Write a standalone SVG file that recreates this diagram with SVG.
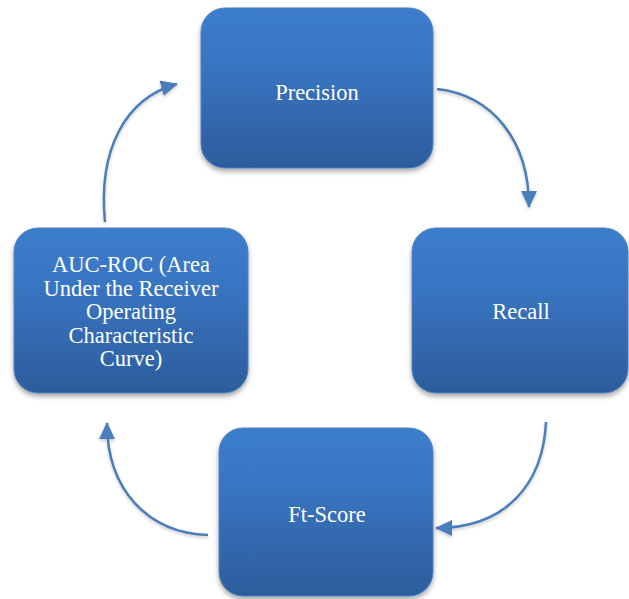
<svg xmlns="http://www.w3.org/2000/svg" width="629" height="599" viewBox="0 0 629 599">
<style>
.box{fill:url(#g);stroke:#4f81bd;stroke-width:1;filter:url(#sh)}
.lbl{font-family:"Liberation Serif","Times New Roman",serif;font-size:22.5px;fill:#ffffff;text-anchor:middle}
.conn{fill:none;stroke:#4a7ebb;stroke-width:2.5;marker-end:url(#ah);filter:url(#sh2)}
</style>
<defs>
<linearGradient id="g" x1="0" y1="0" x2="0" y2="1">
<stop offset="0" stop-color="#3b7dcd"/>
<stop offset="0.35" stop-color="#3975c2"/>
<stop offset="1" stop-color="#2c5c9c"/>
</linearGradient>
<filter id="sh" x="-10%" y="-10%" width="120%" height="125%">
<feDropShadow dx="0" dy="3" stdDeviation="2.5" flood-color="#000" flood-opacity="0.35"/>
</filter>
<filter id="sh2" x="-20%" y="-20%" width="140%" height="140%">
<feDropShadow dx="0" dy="2" stdDeviation="1.5" flood-color="#000" flood-opacity="0.2"/>
</filter>
<marker id="ah" markerUnits="userSpaceOnUse" markerWidth="18" markerHeight="16" refX="16" refY="8" orient="auto">
<path d="M0,0 L17,8 L0,16 Z" fill="#4a7ebb"/>
</marker>
</defs>
<g id="connectors">
<path class="conn" d="M437,89 C492,95 529,140 529,207"/>
<path class="conn" d="M546,422 C543,485 505,528 436,528"/>
<path class="conn" d="M208,535 C148,533 107,490 107,423"/>
<path class="conn" d="M105,222 C98,150 125,98 177,84"/>
</g>
<g id="precision">
<rect class="box" x="201" y="8" width="232" height="160" rx="24"/>
<text class="lbl" x="317" y="100">Precision</text>
</g>
<g id="recall">
<rect class="box" x="412" y="228" width="216" height="165" rx="24"/>
<text class="lbl" x="521" y="319">Recall</text>
</g>
<g id="ftscore">
<rect class="box" x="219" y="428" width="214" height="168" rx="24"/>
<text class="lbl" x="327" y="522">Ft-Score</text>
</g>
<g id="aucroc">
<rect class="box" x="14" y="228" width="234" height="165" rx="24"/>
<text class="lbl" x="131" y="272">AUC-ROC (Area</text>
<text class="lbl" x="131" y="295.5">Under the Receiver</text>
<text class="lbl" x="131" y="319">Operating</text>
<text class="lbl" x="131" y="342.5">Characteristic</text>
<text class="lbl" x="131" y="366">Curve)</text>
</g>
</svg>
